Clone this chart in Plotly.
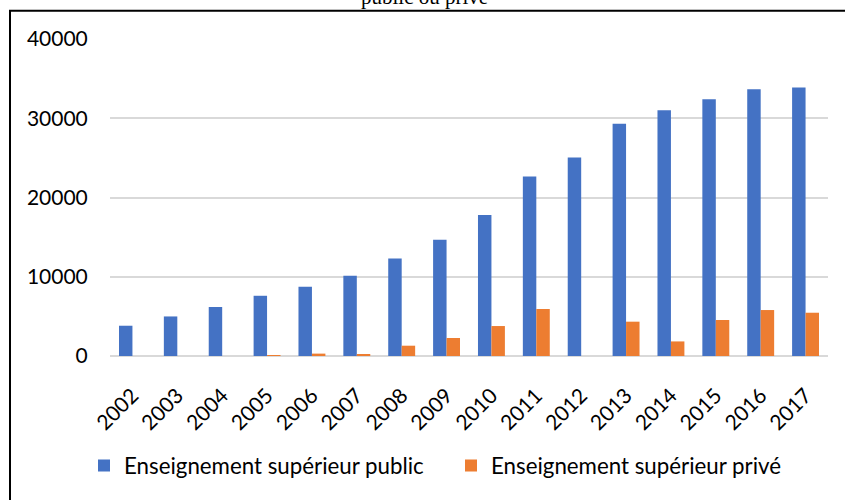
import plotly.graph_objects as go

years = ["2002", "2003", "2004", "2005", "2006", "2007", "2008", "2009",
         "2010", "2011", "2012", "2013", "2014", "2015", "2016", "2017"]
public = [3820, 4990, 6180, 7600, 8740, 10130, 12290, 14660,
          17780, 22640, 25050, 29300, 31020, 32400, 33660, 33870]
prive = [0, 0, 0, 100, 300, 250, 1300, 2270,
         3780, 5930, 0, 4330, 1840, 4540, 5800, 5460]
series_names = ["Enseignement supérieur public", "Enseignement supérieur privé"]
title_text = "public ou privé"

W, H = 845, 500
L, R, T, B = 110, 828, 38.7, 356.3

def px_x(p):
    return (p - L) / (R - L)

def px_y(p):
    return (B - p) / (B - T)

fig = go.Figure()
fig.add_trace(go.Bar(x=years, y=public, name=series_names[0],
                     marker=dict(color="#4472C4", line=dict(width=0))))
fig.add_trace(go.Bar(x=years, y=prive, name=series_names[1],
                     marker=dict(color="#ED7D31", line=dict(width=0))))

font_main = "Lato, Calibri, Carlito, sans-serif"

fig.update_layout(
    width=W, height=H,
    margin=dict(l=L, r=W - R, t=T, b=H - B, pad=0),
    paper_bgcolor="white", plot_bgcolor="white",
    barmode="group", bargap=0.4, bargroupgap=0,
    font=dict(family=font_main, size=21, color="black"),
    showlegend=True,
    legend=dict(orientation="h", x=px_x(84), xanchor="left",
                y=px_y(466), yanchor="middle",
                font=dict(family=font_main, size=22.3, color="black"),
                entrywidth=322, entrywidthmode="pixels",
                traceorder="normal"),
    xaxis=dict(type="category", tickangle=-45, showgrid=False,
               showline=False, zeroline=False, ticks="outside",
               ticklen=18, tickcolor="rgba(0,0,0,0)",
               tickfont=dict(family=font_main, size=21, color="black")),
    yaxis=dict(range=[0, 40000], tickvals=[0, 10000, 20000, 30000, 40000],
               ticktext=["0", "10000", "20000", "30000", "40000"],
               showgrid=True, gridcolor="#D9D9D9", gridwidth=2,
               zeroline=True, zerolinecolor="#D9D9D9", zerolinewidth=2,
               showline=False, ticks="outside", ticklen=17,
               tickcolor="rgba(0,0,0,0)",
               tickfont=dict(family=font_main, size=21, color="black")),
)

# outer frame (left and top edges visible)
fig.add_shape(type="path",
              path=f"M {px_x(10)},{px_y(520)} L {px_x(10)},{px_y(10.5)} L {px_x(860)},{px_y(10.5)}",
              xref="paper", yref="paper", line=dict(color="black", width=2))

fig.add_annotation(text=title_text, x=px_x(424), y=px_y(11), xref="paper", yref="paper",
                   xanchor="center", yanchor="bottom", showarrow=False,
                   font=dict(family="Liberation Serif, Times New Roman, serif", size=21, color="black"))

fig.write_html("out.html", config={"displayModeBar": False},
               post_script="document.body.style.margin='0';document.body.style.overflow='hidden';")
